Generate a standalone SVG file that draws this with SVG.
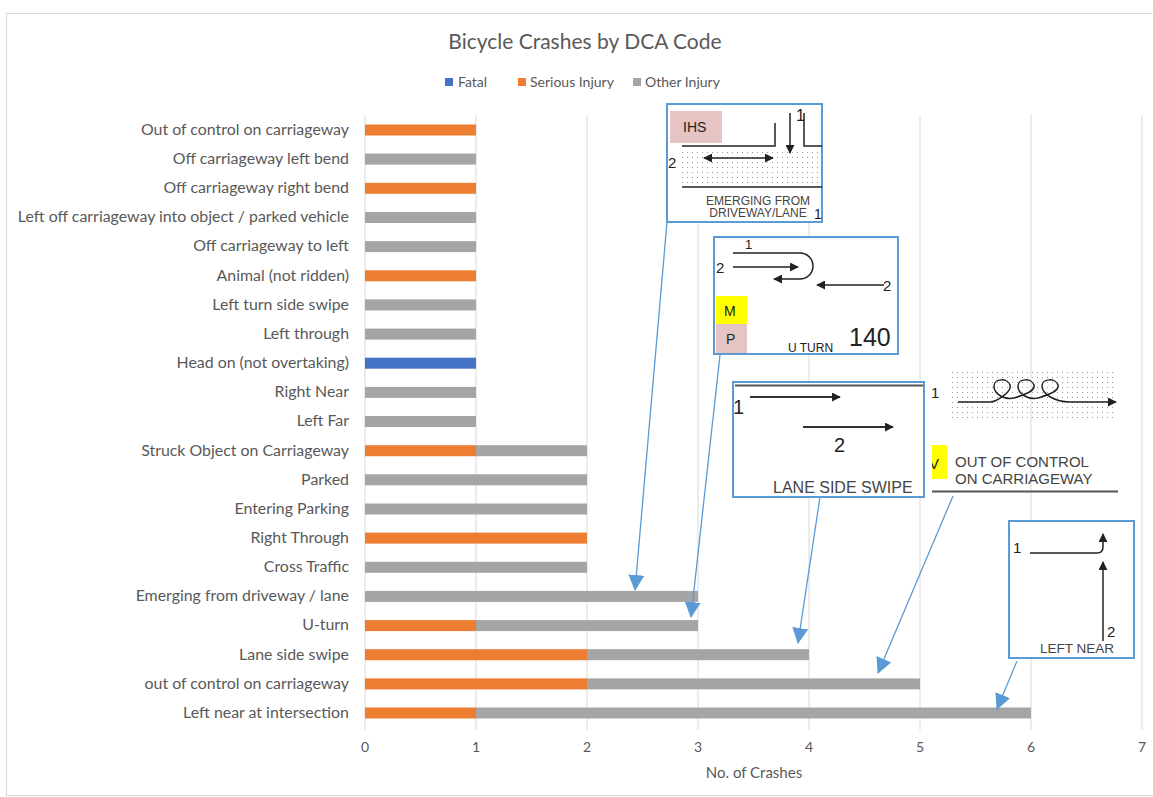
<svg xmlns="http://www.w3.org/2000/svg" width="1153" height="797" viewBox="0 0 1153 797">
<style>
.lbl{font-family:Lato,"Liberation Sans",sans-serif;font-size:15.9px;fill:#595959;text-anchor:end}
.tick{font-family:Lato,"Liberation Sans",sans-serif;font-size:14px;fill:#595959;text-anchor:middle}
.grid{stroke:#D9D9D9;stroke-width:1}
.f{fill:#4472C4}.s{fill:#ED7D31}.o{fill:#A5A5A5}
.box{fill:#fff;stroke:#5B9BD5;stroke-width:2}
.ar{font-family:"Liberation Sans",Arial,sans-serif;fill:#222}
.cap{font-family:"Liberation Sans",Arial,sans-serif;fill:#444}
.ink{stroke:#222;stroke-width:1.5;fill:none}
.conn{stroke:#5B9BD5;stroke-width:1.3;fill:none;marker-end:url(#bluehead)}
</style>
<defs>
<marker id="bluehead" markerUnits="userSpaceOnUse" markerWidth="16" markerHeight="16" viewBox="0 0 16 16" refX="15" refY="8" orient="auto">
<path d="M0,0 L16,8 L0,16 Z" fill="#5B9BD5"/>
</marker>
<marker id="blk" markerUnits="userSpaceOnUse" markerWidth="9" markerHeight="9" viewBox="0 0 10 10" refX="9" refY="5" orient="auto-start-reverse">
<path d="M0,0 L10,5 L0,10 Z" fill="#222"/>
</marker>
<pattern id="dots" width="5" height="5" patternUnits="userSpaceOnUse">
<rect x="2" y="2" width="1" height="1" fill="#999"/>
</pattern>
<clipPath id="yclip"><rect x="932" y="445" width="15" height="34"/></clipPath>
</defs>
<rect width="1153" height="797" fill="#fff"/>
<rect x="6.5" y="13.5" width="1160" height="782" fill="none" stroke="#D9D9D9"/>
<g id="title">
<text x="585" y="49" font-family="Lato,'Liberation Sans',sans-serif" font-size="21" fill="#595959" text-anchor="middle">Bicycle Crashes by DCA Code</text>
</g>
<g id="legend" font-family="Lato,'Liberation Sans',sans-serif" font-size="14" fill="#595959">
<rect x="445" y="78" width="8" height="8" class="f"/><text x="458" y="87">Fatal</text>
<rect x="518" y="78" width="8" height="8" class="s"/><text x="530" y="87">Serious Injury</text>
<rect x="633" y="78" width="8" height="8" class="o"/><text x="645" y="87">Other Injury</text>
</g>
<g id="grid">
<line class="grid" x1="365" y1="115" x2="365" y2="730"/>
<line class="grid" x1="476" y1="115" x2="476" y2="730"/>
<line class="grid" x1="587" y1="115" x2="587" y2="730"/>
<line class="grid" x1="698" y1="115" x2="698" y2="730"/>
<line class="grid" x1="809" y1="115" x2="809" y2="730"/>
<line class="grid" x1="920" y1="115" x2="920" y2="730"/>
<line class="grid" x1="1031" y1="115" x2="1031" y2="730"/>
<line class="grid" x1="1142" y1="115" x2="1142" y2="730"/>
</g>
<g id="axis">
<text class="tick" x="365" y="752">0</text>
<text class="tick" x="476" y="752">1</text>
<text class="tick" x="587" y="752">2</text>
<text class="tick" x="698" y="752">3</text>
<text class="tick" x="809" y="752">4</text>
<text class="tick" x="920" y="752">5</text>
<text class="tick" x="1031" y="752">6</text>
<text class="tick" x="1142" y="752">7</text>
<text x="754" y="778" font-family="Lato,'Liberation Sans',sans-serif" font-size="15" fill="#595959" text-anchor="middle">No. of Crashes</text>
</g>
<g id="labels">
<text class="lbl" x="349" y="135">Out of control on carriageway</text>
<text class="lbl" x="349" y="164">Off carriageway left bend</text>
<text class="lbl" x="349" y="193">Off carriageway right bend</text>
<text class="lbl" x="349" y="222">Left off carriageway into object / parked vehicle</text>
<text class="lbl" x="349" y="251">Off carriageway to left</text>
<text class="lbl" x="349" y="281">Animal (not ridden)</text>
<text class="lbl" x="349" y="310">Left turn side swipe</text>
<text class="lbl" x="349" y="339">Left through</text>
<text class="lbl" x="349" y="368">Head on (not overtaking)</text>
<text class="lbl" x="349" y="397">Right Near</text>
<text class="lbl" x="349" y="426">Left Far</text>
<text class="lbl" x="349" y="456">Struck Object on Carriageway</text>
<text class="lbl" x="349" y="485">Parked</text>
<text class="lbl" x="349" y="514">Entering Parking</text>
<text class="lbl" x="349" y="543">Right Through</text>
<text class="lbl" x="349" y="572">Cross Traffic</text>
<text class="lbl" x="349" y="601">Emerging from driveway / lane</text>
<text class="lbl" x="349" y="630">U-turn</text>
<text class="lbl" x="349" y="660">Lane side swipe</text>
<text class="lbl" x="349" y="689">out of control on carriageway</text>
<text class="lbl" x="349" y="718">Left near at intersection</text>
</g>
<g id="bars">
<rect class="s" x="365" y="124.5" width="111" height="11"/>
<rect class="o" x="365" y="153.6" width="111" height="11"/>
<rect class="s" x="365" y="182.8" width="111" height="11"/>
<rect class="o" x="365" y="212" width="111" height="11"/>
<rect class="o" x="365" y="241.1" width="111" height="11"/>
<rect class="s" x="365" y="270.3" width="111" height="11"/>
<rect class="o" x="365" y="299.4" width="111" height="11"/>
<rect class="o" x="365" y="328.6" width="111" height="11"/>
<rect class="f" x="365" y="357.7" width="111" height="11"/>
<rect class="o" x="365" y="386.9" width="111" height="11"/>
<rect class="o" x="365" y="416" width="111" height="11"/>
<rect class="s" x="365" y="445.2" width="111" height="11"/>
<rect class="o" x="476" y="445.2" width="111" height="11"/>
<rect class="o" x="365" y="474.3" width="222" height="11"/>
<rect class="o" x="365" y="503.5" width="222" height="11"/>
<rect class="s" x="365" y="532.6" width="222" height="11"/>
<rect class="o" x="365" y="561.8" width="222" height="11"/>
<rect class="o" x="365" y="590.9" width="333" height="11"/>
<rect class="s" x="365" y="620.1" width="111" height="11"/>
<rect class="o" x="476" y="620.1" width="222" height="11"/>
<rect class="s" x="365" y="649.2" width="222" height="11"/>
<rect class="o" x="587" y="649.2" width="222" height="11"/>
<rect class="s" x="365" y="678.4" width="222" height="11"/>
<rect class="o" x="587" y="678.4" width="333" height="11"/>
<rect class="s" x="365" y="707.5" width="111" height="11"/>
<rect class="o" x="476" y="707.5" width="555" height="11"/>
</g>
<g id="inset-emerging">
<rect class="box" x="667" y="104" width="155" height="118"/>
<rect x="670" y="111" width="52" height="32" fill="#E6C4C4"/>
<text class="ar" x="683" y="132" font-size="14">IHS</text>
<path class="ink" d="M682,146 H775 V123"/>
<line class="ink" x1="790" y1="113" x2="790" y2="153" marker-end="url(#blk)"/>
<text class="ar" x="796" y="121" font-size="16">1</text>
<path class="ink" d="M804,113 V146 H822"/>
<rect x="682" y="150" width="138" height="34" fill="url(#dots)"/>
<line class="ink" x1="704" y1="158" x2="773" y2="158" marker-start="url(#blk)" marker-end="url(#blk)"/>
<text class="ar" x="668" y="168" font-size="15">2</text>
<line class="ink" x1="682" y1="187" x2="822" y2="187"/>
<text class="cap" x="758" y="205" font-size="12" text-anchor="middle">EMERGING FROM</text>
<text class="cap" x="758" y="217" font-size="12" text-anchor="middle">DRIVEWAY/LANE</text>
<text class="ar" x="814" y="219" font-size="14">1</text>
</g>
<g id="inset-uturn">
<rect class="box" x="714" y="237" width="184" height="117"/>
<text class="ar" x="745" y="249" font-size="13">1</text>
<path class="ink" d="M733,253 H800 A13,13 0 0 1 800,279 H774" marker-end="url(#blk)"/>
<text class="ar" x="716" y="273" font-size="15">2</text>
<line class="ink" x1="733" y1="267" x2="798" y2="267" marker-end="url(#blk)"/>
<line class="ink" x1="884" y1="285" x2="817" y2="285" marker-end="url(#blk)"/>
<text class="ar" x="883" y="291" font-size="15">2</text>
<rect x="716" y="296" width="31" height="28" fill="#FFFF00"/>
<text class="ar" x="724" y="316" font-size="14">M</text>
<rect x="716" y="324" width="31" height="29" fill="#E6C4C4"/>
<text class="ar" x="726" y="344" font-size="14">P</text>
<text class="ar" x="849" y="346" font-size="25">140</text>
<text class="ar" x="788" y="352" font-size="12">U TURN</text>
</g>
<g id="inset-laneswipe">
<rect class="box" x="733" y="382" width="191" height="115"/>
<line x1="735" y1="385.5" x2="923" y2="385.5" stroke="#555" stroke-width="2"/>
<text class="ar" x="733" y="414" font-size="20">1</text>
<line x1="750" y1="397" x2="840" y2="397" stroke="#333" stroke-width="2" marker-end="url(#blk)"/>
<line x1="803" y1="427" x2="893" y2="427" stroke="#333" stroke-width="2" marker-end="url(#blk)"/>
<text class="ar" x="834" y="452" font-size="20">2</text>
<text class="cap" x="773" y="493" font-size="16">LANE SIDE SWIPE</text>
</g>
<g id="inset-outofcontrol">
<rect x="948" y="368" width="165" height="51" fill="url(#dots)"/>
<text class="ar" x="931" y="398" font-size="15">1</text>
<path class="ink" d="M958,402 H990 C996,402 1012,392 1010,385 C1008,378 994,378 994,386 C994,394 1004,400 1014,398 C1020,396 1036,392 1034,385 C1032,378 1018,378 1018,386 C1018,394 1028,400 1038,398 C1044,396 1060,392 1058,385 C1056,378 1042,378 1042,386 C1042,394 1055,402 1070,402 H1116" marker-end="url(#blk)"/>
<rect x="932" y="445" width="15" height="34" fill="#FFFF00"/>
<text class="ar" x="929" y="469" font-size="15" clip-path="url(#yclip)">V</text>
<text class="cap" x="955" y="467" font-size="15">OUT OF CONTROL</text>
<text class="cap" x="955" y="484" font-size="15">ON CARRIAGEWAY</text>
<line x1="932" y1="491.5" x2="1118" y2="491.5" stroke="#555" stroke-width="2"/>
</g>
<g id="inset-leftnear">
<rect class="box" x="1009" y="521" width="125" height="137"/>
<text class="ar" x="1013" y="553" font-size="15">1</text>
<path class="ink" d="M1030,553 H1097 Q1103,553 1103,547 V534" marker-end="url(#blk)"/>
<line class="ink" x1="1103" y1="641" x2="1103" y2="562" marker-end="url(#blk)"/>
<text class="ar" x="1107" y="637" font-size="15">2</text>
<text class="cap" x="1040" y="653" font-size="13.5">LEFT NEAR</text>
</g>
<g id="connectors">
<line class="conn" x1="667" y1="222" x2="635" y2="590"/>
<line class="conn" x1="720" y1="355" x2="691" y2="617"/>
<line class="conn" x1="820" y1="497" x2="798" y2="643"/>
<line class="conn" x1="953" y1="496" x2="878" y2="673"/>
<line class="conn" x1="1017" y1="661" x2="997" y2="709"/>
</g>
</svg>
